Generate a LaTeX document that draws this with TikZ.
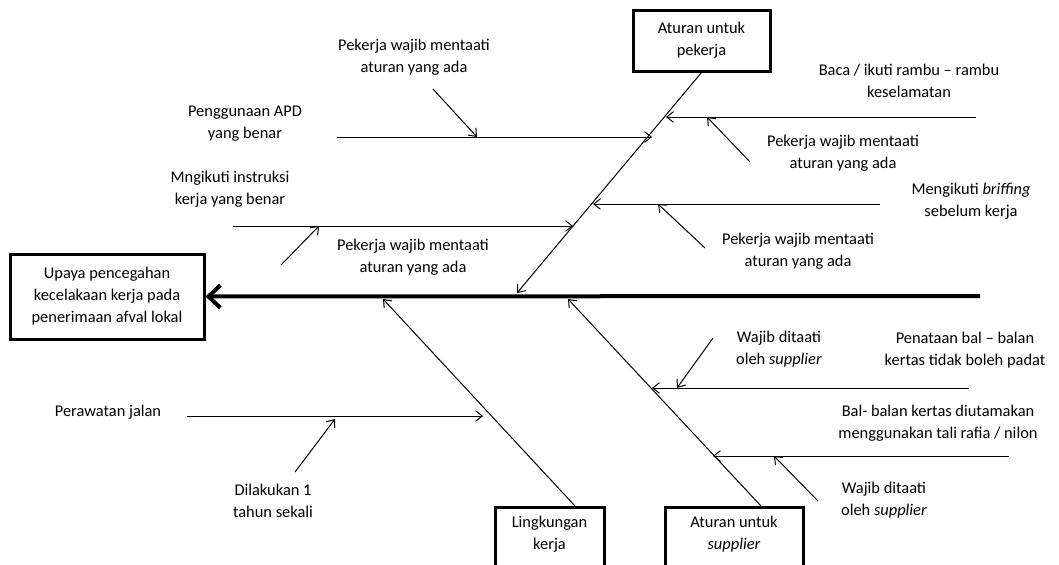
\documentclass[tikz,border=0pt]{standalone}
\usepackage{fontspec}
\setmainfont{Carlito}
\usetikzlibrary{arrows.meta}
\tikzset{
    lbl/.style={align=center, inner sep=0pt, font=\fontsize{12.3}{16.5}\selectfont},
    box/.style={draw, line width=2.25pt, align=center},
    bone/.style={-{Straight Barb[length=5pt,width=8pt]}, line width=0.75pt},
    spine/.style={-{Straight Barb[length=9pt,width=17pt]}, line width=3pt},
}
\begin{document}
\begin{tikzpicture}[x=0.75pt, y=-0.75pt]
                    \useasboundingbox (0,0) rectangle (1059,564);

                    \node[lbl, box, minimum width=145.5pt, minimum height=63.75pt] (goal) at (107,296.5) {Upaya pencegahan\\kecelakaan kerja pada\\penerimaan afval lokal};
                    \node[lbl, box, minimum width=102.75pt, minimum height=45.75pt] (pekerja) at (701.5,40.5) {Aturan untuk\\pekerja};
                    \node[box, minimum width=81.75pt, minimum height=60pt, anchor=north] (lingkbox) at (549.5,506) {};
                    \node[lbl] (lingk) at (549.5,534) {Lingkungan\\kerja};
                    \node[box, minimum width=103.5pt, minimum height=60pt, anchor=north] (supbox) at (734,506) {};
                    \node[lbl] (sup) at (734,534) {Aturan untuk\\\textit{supplier}};

                    \coordinate (spineR) at (980,296);
                    \draw[spine] (spineR) -- (goal.east);

                    \coordinate (pP) at (517,293);
                    \coordinate (lingkS) at (575,506);
                    \coordinate (lP) at (383,299);
                    \coordinate (supS) at (761,506);
                    \coordinate (sP) at (568,299);
                    \draw[bone] (pekerja.south) -- (pP);
                    \draw[bone] (lingkS) -- (lP);
                    \draw[bone] (supS) -- (sP);

                    \node[lbl] (rambu) at (909,81) {Baca / ikuti rambu -- rambu\\keselamatan};
                    \node[lbl] (brif) at (971,201) {Mengikuti \textit{briffing}\\sebelum kerja};
                    \node[lbl] (apd) at (245,124) {Penggunaan APD\\yang benar};
                    \node[lbl] (instr) at (230,189) {Mngikuti instruksi\\kerja yang benar};
                    \node[lbl] (jalan) at (108,412) {Perawatan jalan};
                    \node[lbl] (padat) at (965,350) {Penataan bal -- balan\\kertas tidak boleh padat};
                    \node[lbl] (rafia) at (938,423) {Bal- balan kertas diutamakan\\menggunakan tali rafia / nilon};

                    \coordinate (rambuS) at (976,117);
                    \coordinate (rambuE) at (666,117);
                    \coordinate (brifS) at (880,204);
                    \coordinate (brifE) at (593,204);
                    \coordinate (apdS) at (337,137);
                    \coordinate (apdE) at (652,137);
                    \coordinate (instrS) at (233,226);
                    \coordinate (instrE) at (573,226);
                    \coordinate (jalanS) at (187,416);
                    \coordinate (jalanE) at (483,416);
                    \coordinate (padatS) at (969,388);
                    \coordinate (padatE) at (652,388);
                    \coordinate (rafiaS) at (1009,456);
                    \coordinate (rafiaE) at (713,456);
                    \draw[bone] (rambuS) -- (rambuE);
                    \draw[bone] (brifS) -- (brifE);
                    \draw[bone] (apdS) -- (apdE);
                    \draw[bone] (instrS) -- (instrE);
                    \draw[bone] (jalanS) -- (jalanE);
                    \draw[bone] (padatS) -- (padatE);
                    \draw[bone] (rafiaS) -- (rafiaE);

                    \node[lbl] (taatA) at (414,57) {Pekerja wajib mentaati\\aturan yang ada};
                    \node[lbl] (taatB) at (413,257) {Pekerja wajib mentaati\\aturan yang ada};
                    \node[lbl] (taatC) at (843,153) {Pekerja wajib mentaati\\aturan yang ada};
                    \node[lbl] (taatD) at (798,251) {Pekerja wajib mentaati\\aturan yang ada};
                    \node[lbl] (tahun) at (273,501) {Dilakukan 1\\tahun sekali};
                    \node[lbl] (supA) at (779,349) {Wajib ditaati\\oleh \textit{supplier}};
                    \node[lbl] (supB) at (884,500) {Wajib ditaati\\oleh \textit{supplier}};

                    \coordinate (taatAS) at (433,89);
                    \coordinate (taatAE) at (477,137);
                    \coordinate (taatBS) at (281,265);
                    \coordinate (taatBE) at (319,226);
                    \coordinate (taatCS) at (750,162);
                    \coordinate (taatCE) at (707,117);
                    \coordinate (taatDS) at (705,248);
                    \coordinate (taatDE) at (658,204);
                    \coordinate (tahunS) at (295,472);
                    \coordinate (tahunE) at (335,419);
                    \coordinate (supAS) at (713,338);
                    \coordinate (supAE) at (677,388);
                    \coordinate (supBS) at (818,501);
                    \coordinate (supBE) at (774,456);
                    \draw[bone] (taatAS) -- (taatAE);
                    \draw[bone] (taatBS) -- (taatBE);
                    \draw[bone] (taatCS) -- (taatCE);
                    \draw[bone] (taatDS) -- (taatDE);
                    \draw[bone] (tahunS) -- (tahunE);
                    \draw[bone] (supAS) -- (supAE);
                    \draw[bone] (supBS) -- (supBE);
                \end{tikzpicture}
\end{document}
